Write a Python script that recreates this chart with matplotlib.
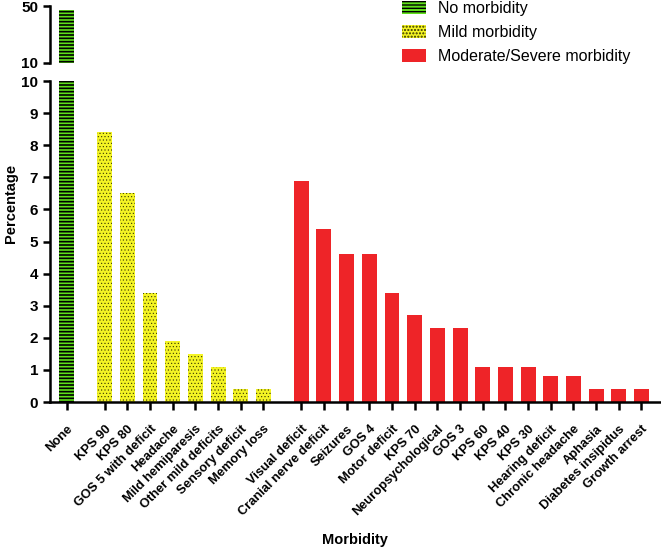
import numpy as np
import matplotlib
matplotlib.use('Agg')
import matplotlib.pyplot as plt
from matplotlib.patches import Patch

plt.rcParams['font.family'] = ['Liberation Sans', 'DejaVu Sans']

# data
none_label = ["None"]
none_value = [47.5]

mild_labels = ["KPS 90", "KPS 80", "GOS 5 with deficit", "Headache",
               "Mild hemiparesis", "Other mild deficits", "Sensory deficit",
               "Memory loss"]
mild_values = [8.4, 6.5, 3.4, 1.9, 1.5, 1.1, 0.4, 0.4]

severe_labels = ["Visual deficit", "Cranial nerve deficit", "Seizures", "GOS 4",
                 "Motor deficit", "KPS 70", "Neuropsychological", "GOS 3",
                 "KPS 60", "KPS 40", "KPS 30", "Hearing deficit",
                 "Chronic headache", "Aphasia", "Diabetes insipidus",
                 "Growth arrest"]
severe_values = [6.9, 5.4, 4.6, 4.6, 3.4, 2.7, 2.3, 2.3, 1.1, 1.1, 1.1, 0.8,
                 0.8, 0.4, 0.4, 0.4]

GREEN = '#5fe01a'
YELLOW = '#f4f424'
RED = '#ee2428'
GAP = 1.67
WIDTH = 0.66


def greenBar(a, x, h):
	with plt.rc_context({'hatch.linewidth': 1.2}):
		a.bar(x, h, WIDTH, color=GREEN, edgecolor='black', linewidth=0,
		      hatch='-----')


def yellowBar(a, x, h):
	with plt.rc_context({'hatch.linewidth': 0.4}):
		a.bar(x, h, WIDTH, color=YELLOW, edgecolor='#333300', linewidth=0,
		      hatch='.....')


def main():
	x_none = np.array([0.0])
	x_mild = GAP + np.arange(len(mild_values))
	x_sev = x_mild[-1] + GAP + np.arange(len(severe_values))

	fig = plt.figure(figsize=(6.61, 5.5), dpi=100)
	ax_top = fig.add_axes([0.0756, 0.886, 0.9244, 0.103])
	ax = fig.add_axes([0.0756, 0.269, 0.9244, 0.5836])

	for a in (ax_top, ax):
		greenBar(a, x_none, none_value)
		yellowBar(a, x_mild, mild_values)
		a.bar(x_sev, severe_values, WIDTH, color=RED, linewidth=0)
		a.set_xlim(-0.74, 26.2)
		for s in ('top', 'right'):
			a.spines[s].set_visible(False)
		a.spines['left'].set_linewidth(1.8)
		a.tick_params(axis='y', width=1.8, length=5, labelsize=11)

	# top piece of the broken axis
	ax_top.set_ylim(10, 50)
	ax_top.set_yticks([10, 50])
	ax_top.set_yticklabels(['10', '50'], fontweight='bold')
	ax_top.spines['bottom'].set_visible(False)
	ax_top.set_xticks([])

	# lower piece
	ax.set_ylim(0, 10)
	ax.set_yticks(np.arange(0, 11))
	ax.set_yticklabels([str(v) for v in range(11)], fontweight='bold')
	ax.spines['bottom'].set_linewidth(1.8)
	xs = np.concatenate([x_none, x_mild, x_sev])
	labels = none_label + mild_labels + severe_labels
	ax.set_xticks(xs)
	ax.set_xticklabels(labels, rotation=45, ha='right', rotation_mode='anchor',
	                   fontsize=9.3, fontweight='bold')
	ax.tick_params(axis='x', width=1.8, length=6, pad=9)

	ax.set_ylabel('Percentage', fontsize=10.5, fontweight='bold')
	ax.yaxis.set_label_coords(-0.052, 0.62)
	fig.text(0.537, 0.006, 'Morbidity', ha='center', va='bottom',
	         fontsize=10.5, fontweight='bold')

	with plt.rc_context({'hatch.linewidth': 1.2}):
		h1 = Patch(facecolor=GREEN, edgecolor='black', linewidth=0, hatch='-----')
	with plt.rc_context({'hatch.linewidth': 0.4}):
		h2 = Patch(facecolor=YELLOW, edgecolor='#333300', linewidth=0, hatch='.....')
	h3 = Patch(facecolor=RED, linewidth=0)
	fig.legend([h1, h2, h3], ['No morbidity', 'Mild morbidity', 'Moderate/Severe morbidity'],
	           loc='upper left', bbox_to_anchor=(0.587, 1.024), frameon=False,
	           fontsize=11.5, handlelength=1.45, handleheight=0.85,
	           handletextpad=0.75, labelspacing=0.55)

	fig.savefig('out.png', dpi=100)


if __name__ == "__main__":
	main()
